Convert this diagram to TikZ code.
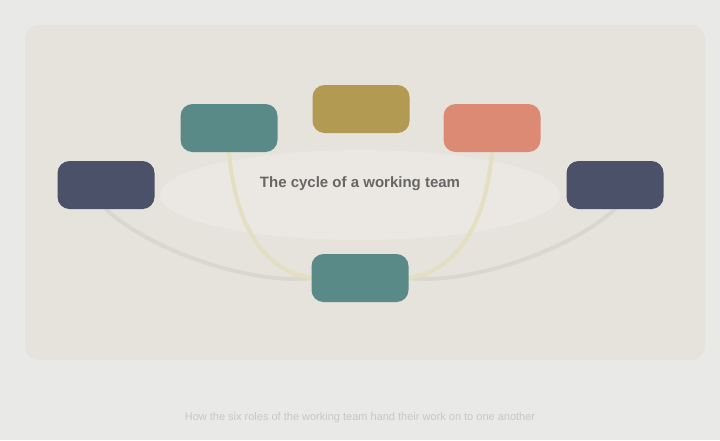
\documentclass[tikz,border=0pt]{standalone}
\usepackage{fontspec}
\setmainfont{Liberation Sans}
\usetikzlibrary{backgrounds}
\definecolor{pagegray}{HTML}{E9E9E8}
\definecolor{panel}{HTML}{E6E3DC}
\definecolor{navy}{HTML}{4B5169}
\definecolor{teal}{HTML}{5A8A88}
\definecolor{gold}{HTML}{B29A52}
\definecolor{salmon}{HTML}{DC8A74}
\definecolor{linkgray}{HTML}{D8D8D1}
\definecolor{linkgold}{HTML}{E4DFC2}
\tikzset{
  role/.style={draw=none,rounded corners=12pt,minimum width=97pt,minimum height=48pt},
  link/.style={line width=4pt,line cap=round}
}

\begin{document}
\begin{tikzpicture}[x=1pt,y=-1pt]
        \node [role,fill=navy] (lnavy) at (106,185) {};
        \node [role,fill=teal] (lteal) at (229,128) {};
        \node [role,fill=gold] (top) at (361,109) {};
        \node [role,fill=salmon] (rsalmon) at (492,128) {};
        \node [role,fill=navy] (rnavy) at (615,185) {};
        \node [role,fill=teal] (bottom) at (360,278) {};

        \node [text=black!60,font=\bfseries\fontsize{15}{18}\selectfont] (title) at (360,184) {The cycle of a working team};
        \node [text=black!22,font=\fontsize{11}{13}\selectfont] (caption) at (360,418) {How the six roles of the working team hand their work on to one another};

        \begin{scope}[on background layer]
        \fill [pagegray] (0,0) rectangle (720,440);
        \fill [panel,rounded corners=14pt] (25,25) rectangle (705,360);
        \fill [white,opacity=0.2] (360,195) ellipse (200pt and 45pt);

        \draw [link,linkgray] (lnavy.south) .. controls (150,250) and (250,285) .. (bottom.west);
        \draw [link,linkgray] (rnavy.south) .. controls (570,250) and (470,285) .. (bottom.east);
        \draw [link,linkgold] (lteal.south) .. controls (235,220) and (260,270) .. (bottom.west);
        \draw [link,linkgold] (rsalmon.south) .. controls (486,220) and (460,270) .. (bottom.east);
        \end{scope}
      \end{tikzpicture}
\end{document}
